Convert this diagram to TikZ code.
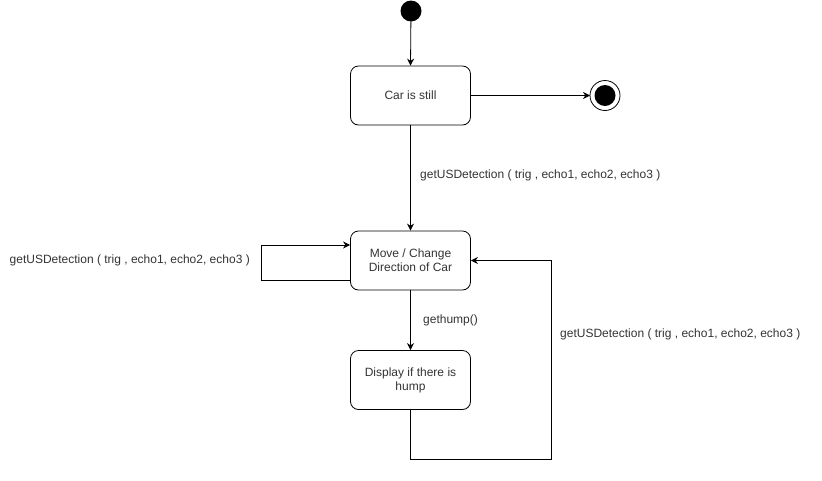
\documentclass[tikz,border=0pt]{standalone}
\usepackage{fontspec}
\setmainfont{Liberation Sans}
\usetikzlibrary{arrows.meta}
\definecolor{textgray}{HTML}{333333}

\begin{document}
\begin{tikzpicture}[x=1pt,y=-1pt,
    state/.style={draw,thick,rounded corners=8pt,minimum width=120pt,minimum height=59pt,
        align=center,text=textgray,font=\fontsize{12}{14}\selectfont},
    trans/.style={-{Stealth[length=7pt,width=7pt]},thick},
    lbl/.style={text=textgray,font=\fontsize{12}{14}\selectfont,inner sep=0pt}]
\useasboundingbox (0,0) rectangle (822,480);

% States
\fill (411,11) circle (10.5);
\coordinate (init) at (411,11);
\node[state] (still) at (410.5,95.5) {Car is still};
\node[state] (move) at (410.5,260.5) {Move / Change\\Direction of Car};
\node[state] (disp) at (410.5,380) {Display if there is\\hump};
\draw[thick] (605,95.5) circle (15);
\fill (605,95.5) circle (10.5);
\coordinate (final) at (590,95.5);

% Transitions
\draw[trans] (init) -- (still.north);
\draw[trans] (still.east) -- (final);
\draw[trans] (still.south) -- (move.north);
\node[lbl,anchor=west] at (420,175) {getUSDetection ( trig , echo1, echo2, echo3 )};
\draw[trans] (move.south) -- (disp.north);
\node[lbl,anchor=west] at (423,320) {gethump()};

% Self loop on move
\coordinate (loopL) at (261,245);
\draw[trans] ([yshift=-19.5pt]move.west) -| (loopL) -- ([yshift=15.5pt]move.west);
\node[lbl,anchor=east] at (250,260) {getUSDetection ( trig , echo1, echo2, echo3 )};

% Back from display to move
\coordinate (loopR) at (551,459.5);
\draw[trans] (disp.south) |- (loopR) |- (move.east);
\node[lbl,anchor=west] at (560,334) {getUSDetection ( trig , echo1, echo2, echo3 )};
\end{tikzpicture}
\end{document}
